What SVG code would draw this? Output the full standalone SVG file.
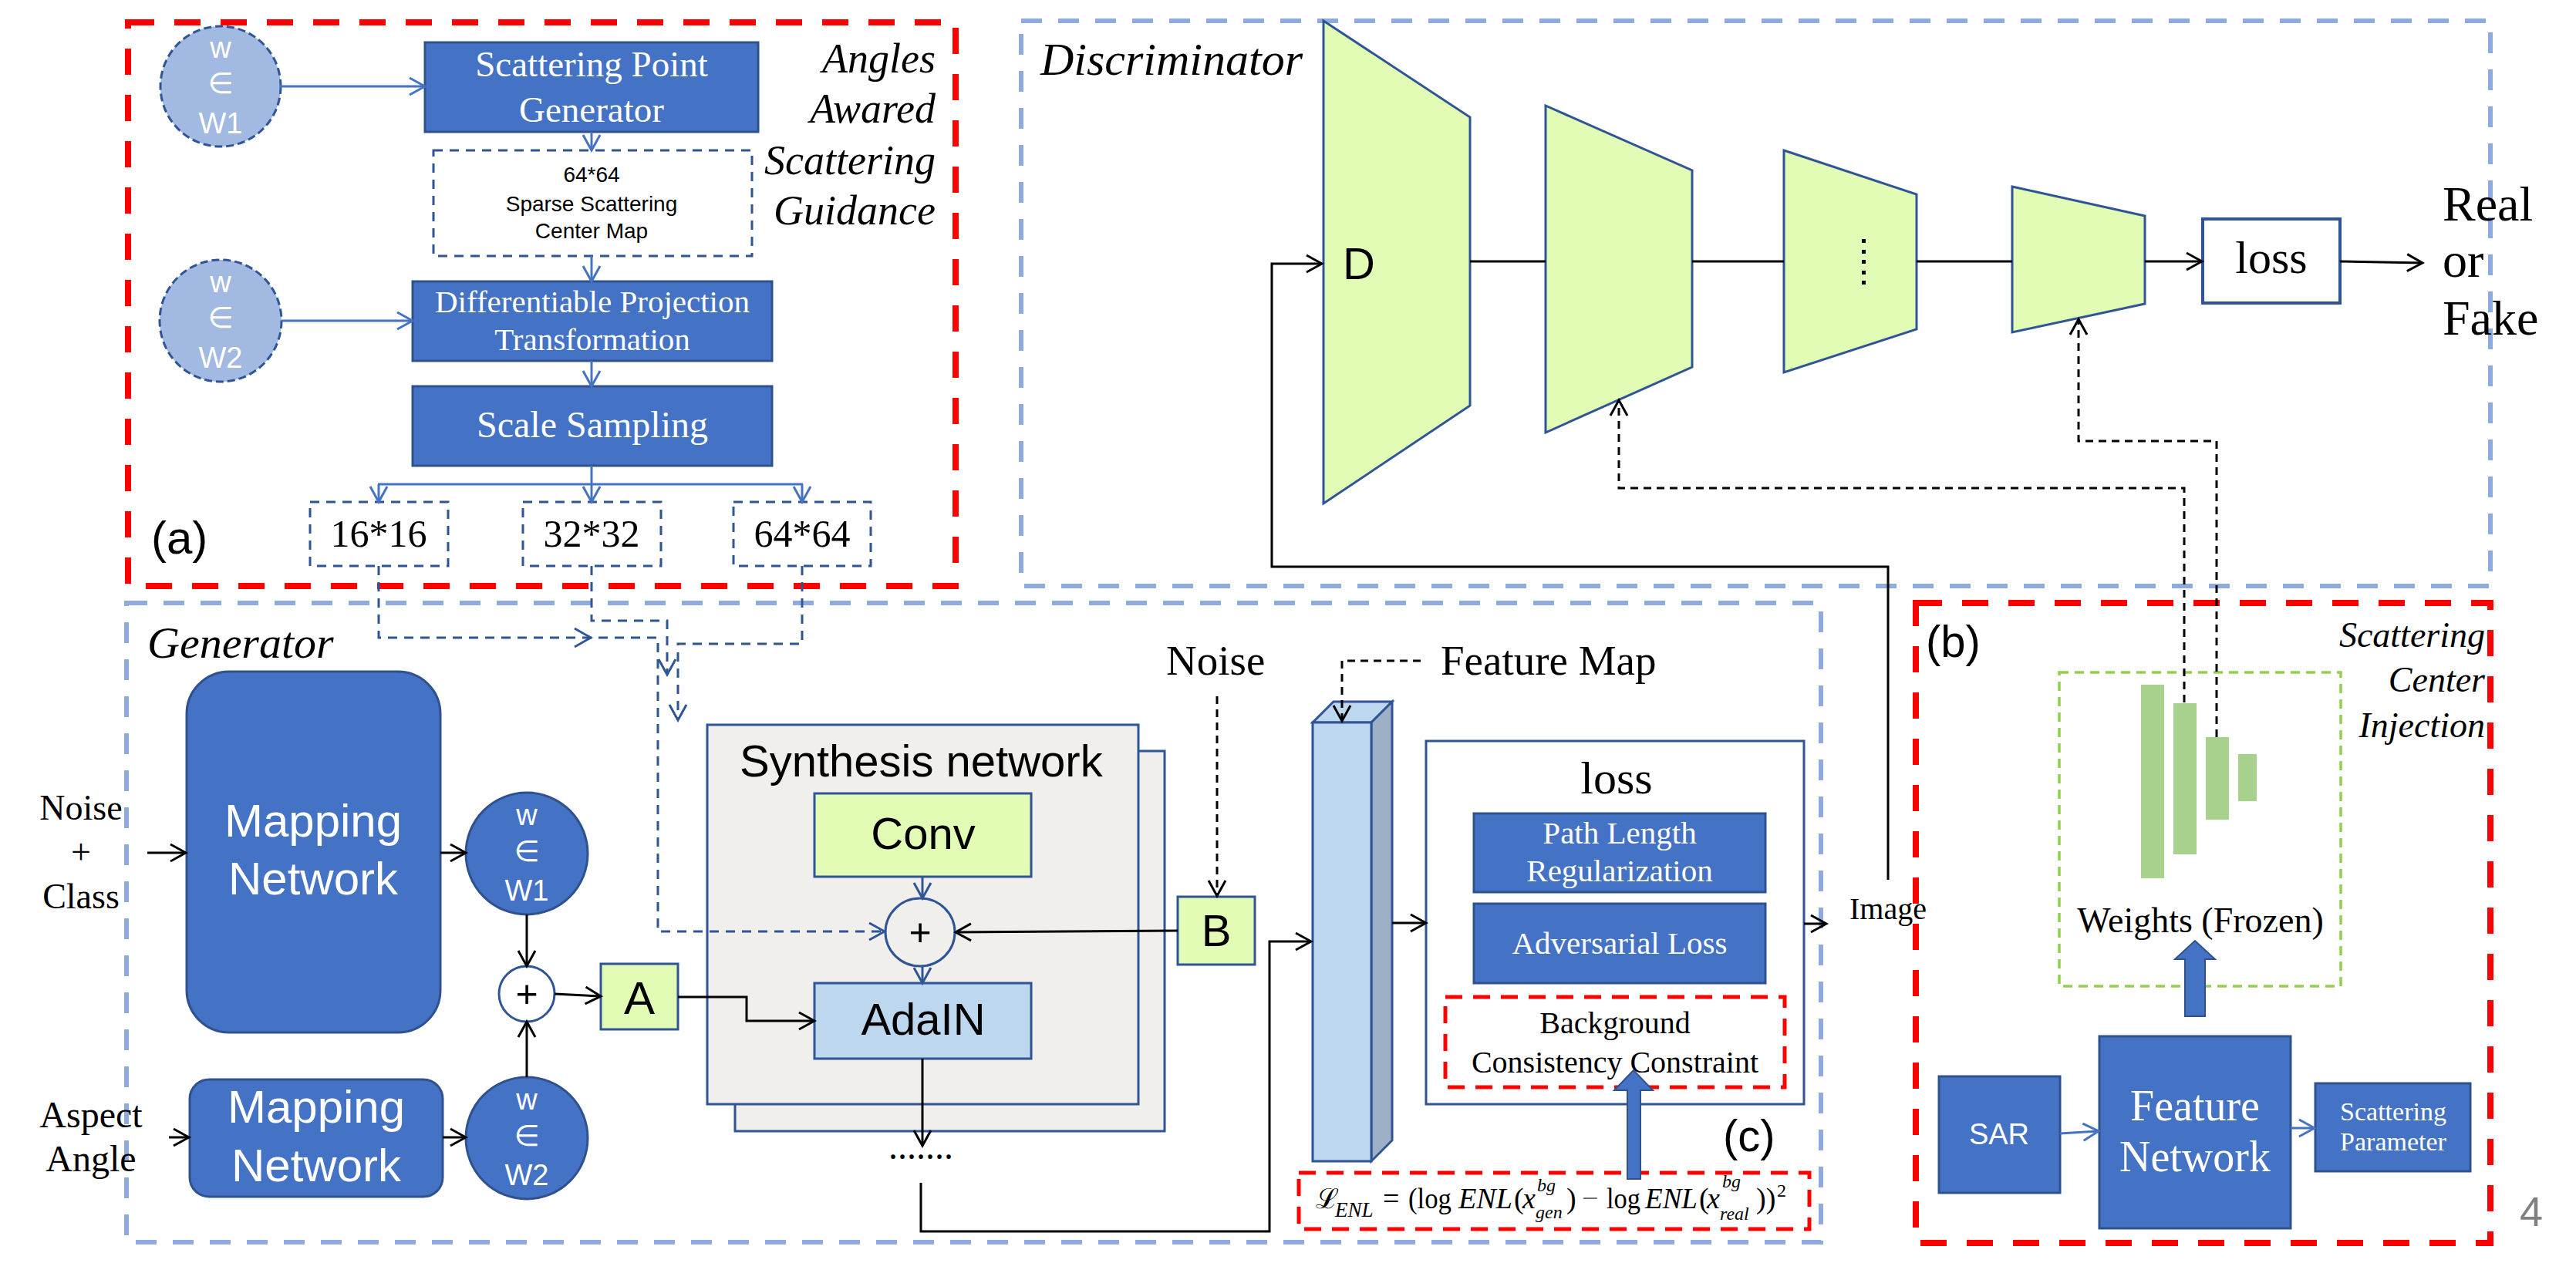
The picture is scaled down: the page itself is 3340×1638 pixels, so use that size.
<svg xmlns="http://www.w3.org/2000/svg" width="3340" height="1638" viewBox="0 0 3340 1638">
<style>
.bx{fill:#4472C4;stroke:#2F528F;stroke-width:3}
.red{fill:none;stroke:#FF0000;stroke-width:8;stroke-dasharray:34 26}
.red2{fill:none;stroke:#FF0000;stroke-width:5;stroke-dasharray:22 14}
.bd{fill:none;stroke:#8FAADC;stroke-width:6;stroke-dasharray:27 21}
.dd{fill:none;stroke:#2F5597;stroke-width:3;stroke-dasharray:12 9}
.kd{fill:none;stroke:#000;stroke-width:3;stroke-dasharray:10 7}
.k{fill:none;stroke:#000;stroke-width:3}
.bl{fill:none;stroke:#4472C4;stroke-width:3}
.dk{fill:none;stroke:#2F5597;stroke-width:3}
.tr{fill:#E2FCB6;stroke:#2F5597;stroke-width:3}
.lc{fill:#A2B9E1;stroke:#2F5597;stroke-width:3;stroke-dasharray:10 5}
.dc{fill:#4472C4;stroke:#2F528F;stroke-width:3}
.ser{font-family:"Liberation Serif","Times New Roman",serif}
.sans{font-family:"Liberation Sans",Arial,"DejaVu Sans",sans-serif}
.w{fill:#fff}
.mid{text-anchor:middle}
.it{font-style:italic}
</style>
<defs>
<marker id="ak" markerUnits="userSpaceOnUse" markerWidth="26" markerHeight="26" viewBox="0 0 26 26" refX="23" refY="13" orient="auto"><path d="M3,2 L23,13 L3,24" fill="none" stroke="#000" stroke-width="3"/></marker>
<marker id="ab" markerUnits="userSpaceOnUse" markerWidth="26" markerHeight="26" viewBox="0 0 26 26" refX="23" refY="13" orient="auto"><path d="M3,2 L23,13 L3,24" fill="none" stroke="#4472C4" stroke-width="3"/></marker>
<marker id="ad" markerUnits="userSpaceOnUse" markerWidth="26" markerHeight="26" viewBox="0 0 26 26" refX="23" refY="13" orient="auto"><path d="M3,2 L23,13 L3,24" fill="none" stroke="#2F5597" stroke-width="3"/></marker>
</defs>
<rect width="3340" height="1638" fill="#fff"/>

<!-- frames -->
<g id="frame-a"><rect class="red" x="166" y="29" width="1073" height="731"/>
<text class="sans" x="196" y="718" font-size="60">(a)</text>
<text class="ser it" x="1213" y="94" font-size="54" text-anchor="end">Angles</text>
<text class="ser it" x="1213" y="159" font-size="54" text-anchor="end">Awared</text>
<text class="ser it" x="1213" y="226" font-size="54" text-anchor="end">Scattering</text>
<text class="ser it" x="1213" y="291" font-size="54" text-anchor="end">Guidance</text>
</g>
<g id="frame-disc"><rect class="bd" x="1324" y="27" width="1905" height="733"/>
<text class="ser it" x="1349" y="97" font-size="60">Discriminator</text></g>
<g id="frame-gen"><rect class="bd" x="164" y="782" width="2197" height="829"/>
<text class="ser it" x="191" y="853" font-size="58">Generator</text></g>
<g id="frame-b"><rect class="red" x="2484" y="782" width="745" height="830"/>
<text class="sans" x="2497" y="852" font-size="58">(b)</text>
<text class="ser it" x="3222" y="839" font-size="46" text-anchor="end">Scattering</text>
<text class="ser it" x="3222" y="897" font-size="46" text-anchor="end">Center</text>
<text class="ser it" x="3222" y="956" font-size="46" text-anchor="end">Injection</text>
</g>

<!-- (a) nodes -->
<g id="w1-light"><circle class="lc" cx="286" cy="112" r="78"/>
<text class="sans w mid" x="286" y="75" font-size="38">w</text>
<text class="sans w mid" x="286" y="121" font-size="38">∈</text>
<text class="sans w mid" x="286" y="173" font-size="38">W1</text></g>
<g id="w2-light"><circle class="lc" cx="286" cy="416" r="79"/>
<text class="sans w mid" x="286" y="379" font-size="38">w</text>
<text class="sans w mid" x="286" y="425" font-size="38">∈</text>
<text class="sans w mid" x="286" y="477" font-size="38">W2</text></g>
<g id="spg"><rect class="bx" x="551" y="55" width="432" height="116"/>
<text class="ser w mid" x="767" y="99" font-size="47">Scattering Point</text>
<text class="ser w mid" x="767" y="158" font-size="47">Generator</text></g>
<g id="sparse"><rect class="dd" x="562" y="195" width="413" height="137"/>
<text class="sans mid" x="767" y="236" font-size="28">64*64</text>
<text class="sans mid" x="767" y="274" font-size="28">Sparse Scattering</text>
<text class="sans mid" x="767" y="309" font-size="28">Center Map</text></g>
<g id="dpt"><rect class="bx" x="535" y="365" width="466" height="103"/>
<text class="ser w mid" x="768" y="405" font-size="41">Differentiable Projection</text>
<text class="ser w mid" x="768" y="454" font-size="41">Transformation</text></g>
<g id="ss"><rect class="bx" x="535" y="501" width="466" height="103"/>
<text class="ser w mid" x="768" y="567" font-size="48">Scale Sampling</text></g>
<g id="s16"><rect class="dd" x="402" y="651" width="179" height="83"/>
<text class="ser mid" x="491" y="709" font-size="50">16*16</text></g>
<g id="s32"><rect class="dd" x="678" y="651" width="179" height="83"/>
<text class="ser mid" x="767" y="709" font-size="50">32*32</text></g>
<g id="s64"><rect class="dd" x="951" y="651" width="178" height="83"/>
<text class="ser mid" x="1040" y="709" font-size="50">64*64</text></g>

<!-- discriminator nodes -->
<g id="d1"><polygon class="tr" points="1716,27 1906,152 1906,526 1716,653"/>
<text class="sans" x="1741" y="362" font-size="58">D</text></g>
<g id="d2"><polygon class="tr" points="2004,137 2194,221 2194,476 2004,561"/></g>
<g id="d3"><polygon class="tr" points="2313,195 2485,252 2485,427 2313,483"/>
<g fill="#000"><rect x="2414" y="310" width="5" height="5"/><rect x="2414" y="324" width="5" height="5"/><rect x="2414" y="337" width="5" height="5"/><rect x="2414" y="351" width="5" height="5"/><rect x="2414" y="364" width="5" height="5"/></g></g>
<g id="d4"><polygon class="tr" points="2609,242 2781,280 2781,394 2609,431"/></g>
<g id="dloss"><rect x="2856" y="284" width="178" height="109" fill="#fff" stroke="#2F5597" stroke-width="4"/>
<text class="ser mid" x="2945" y="354" font-size="60">loss</text></g>
<g id="realfake"><text class="ser" x="3167" y="286" font-size="64">Real</text>
<text class="ser" x="3167" y="359" font-size="64">or</text>
<text class="ser" x="3167" y="434" font-size="64">Fake</text></g>

<!-- generator nodes -->
<g id="in-noise"><text class="ser mid" x="105" y="1063" font-size="46">Noise</text>
<text class="ser mid" x="105" y="1120" font-size="46">+</text>
<text class="ser mid" x="105" y="1178" font-size="46">Class</text></g>
<g id="in-aspect"><text class="ser mid" x="118" y="1462" font-size="48">Aspect</text>
<text class="ser mid" x="118" y="1519" font-size="48">Angle</text></g>
<g id="mn1"><rect class="bx" x="242" y="871" width="329" height="468" rx="55"/>
<text class="sans w mid" x="406" y="1085" font-size="60">Mapping</text>
<text class="sans w mid" x="406" y="1160" font-size="60">Network</text></g>
<g id="mn2"><rect class="bx" x="246" y="1400" width="328" height="152" rx="25"/>
<text class="sans w mid" x="410" y="1456" font-size="60">Mapping</text>
<text class="sans w mid" x="410" y="1532" font-size="60">Network</text></g>
<g id="w1"><circle class="dc" cx="683" cy="1107" r="79"/>
<text class="sans w mid" x="683" y="1070" font-size="38">w</text>
<text class="sans w mid" x="683" y="1117" font-size="38">∈</text>
<text class="sans w mid" x="683" y="1168" font-size="38">W1</text></g>
<g id="w2"><circle class="dc" cx="683" cy="1476" r="79"/>
<text class="sans w mid" x="683" y="1439" font-size="38">w</text>
<text class="sans w mid" x="683" y="1486" font-size="38">∈</text>
<text class="sans w mid" x="683" y="1537" font-size="38">W2</text></g>
<g id="plus1"><circle cx="683" cy="1289" r="36" fill="#fff" stroke="#2F5597" stroke-width="3"/>
<text class="sans mid" x="683" y="1306" font-size="50">+</text></g>
<g id="boxA"><rect x="779" y="1250" width="100" height="85" fill="#E2FCB6" stroke="#2F5597" stroke-width="3"/>
<text class="sans mid" x="829" y="1315" font-size="60">A</text></g>
<g id="synthesis"><rect x="953" y="974" width="557" height="493" fill="#F0EFEC" stroke="#2F5597" stroke-width="3"/>
<rect x="917" y="940" width="559" height="492" fill="#F0EFEC" stroke="#2F5597" stroke-width="3"/>
<text class="sans" x="959" y="1007" font-size="58">Synthesis network</text></g>
<g id="conv"><rect x="1056" y="1029" width="281" height="108" fill="#E2FCB6" stroke="#2F5597" stroke-width="3"/>
<text class="sans mid" x="1197" y="1101" font-size="58">Conv</text></g>
<g id="plus2"><ellipse cx="1193" cy="1209" rx="45" ry="44" fill="#F0EFEC" stroke="#2F5597" stroke-width="3"/>
<text class="sans mid" x="1193" y="1226" font-size="50">+</text></g>
<g id="adain"><rect x="1056" y="1275" width="281" height="98" fill="#BDD7EE" stroke="#2F5597" stroke-width="3"/>
<text class="sans mid" x="1197" y="1342" font-size="58">AdaIN</text></g>
<g id="dots"><text class="ser" x="1152" y="1503" font-size="48">.......</text></g>
<g id="boxB"><rect x="1527" y="1163" width="100" height="88" fill="#E2FCB6" stroke="#2F5597" stroke-width="3"/>
<text class="sans mid" x="1577" y="1227" font-size="58">B</text></g>
<g id="noise2"><text class="ser" x="1512" y="875" font-size="55">Noise</text></g>
<g id="featmap"><polygon points="1702,937 1778,937 1805,910 1729,910" fill="#BDD7EE" stroke="#2F5597" stroke-width="3"/>
<polygon points="1778,937 1805,910 1805,1479 1778,1506" fill="#9DB0C8" stroke="#2F5597" stroke-width="3"/>
<rect x="1702" y="937" width="76" height="569" fill="#BDD7EE" stroke="#2F5597" stroke-width="3"/>
<text class="ser" x="1868" y="875" font-size="55">Feature Map</text></g>
<g id="gloss"><rect x="1849" y="961" width="490" height="471" fill="#fff" stroke="#2F5597" stroke-width="3"/>
<text class="ser mid" x="2096" y="1029" font-size="60">loss</text>
<rect class="bx" x="1911" y="1055" width="378" height="102"/>
<text class="ser w mid" x="2100" y="1094" font-size="41">Path Length</text>
<text class="ser w mid" x="2100" y="1143" font-size="41">Regularization</text>
<rect class="bx" x="1911" y="1172" width="378" height="103"/>
<text class="ser w mid" x="2100" y="1237" font-size="41">Adversarial Loss</text>
<rect class="red2" x="1874" y="1293" width="440" height="117"/>
<text class="ser mid" x="2094" y="1340" font-size="40">Background</text>
<text class="ser mid" x="2094" y="1391" font-size="40">Consistency Constraint</text></g>
<g id="formula"><rect class="red2" x="1684" y="1521" width="662" height="73"/>
<g class="ser" font-size="38">
<text x="1706" y="1567" font-family="'DejaVu Serif',serif" font-size="36">ℒ</text>
<text class="it" x="1731" y="1578" font-size="27">ENL</text>
<text x="1793" y="1567">=</text>
<text x="1826" y="1567" textLength="56" lengthAdjust="spacingAndGlyphs">(log</text>
<text class="it" x="1891" y="1567" textLength="70" lengthAdjust="spacingAndGlyphs">ENL</text>
<text x="1963" y="1567">(</text>
<text class="it" x="1974" y="1567">x</text>
<text class="it" x="1993" y="1545" font-size="24">bg</text>
<text class="it" x="1991" y="1580" font-size="24">gen</text>
<text x="2031" y="1567">)</text>
<text x="2051" y="1567" fill="#666">−</text>
<text x="2083" y="1567" textLength="44" lengthAdjust="spacingAndGlyphs">log</text>
<text class="it" x="2133" y="1567" textLength="68" lengthAdjust="spacingAndGlyphs">ENL</text>
<text x="2203" y="1567">(</text>
<text class="it" x="2213" y="1567">x</text>
<text class="it" x="2233" y="1540" font-size="24">bg</text>
<text class="it" x="2230" y="1582" font-size="24">real</text>
<text x="2277" y="1567">))</text>
<text x="2304" y="1552" font-size="24">2</text>
</g></g>
<g id="label-c"><text class="sans" x="2234" y="1493" font-size="58">(c)</text></g>
<g id="image"><text class="ser" x="2398" y="1192" font-size="40">Image</text></g>

<!-- (b) nodes -->
<g id="weights"><rect x="2670" y="872" width="365" height="407" fill="none" stroke="#92D050" stroke-width="3.5" stroke-dasharray="12 8"/>
<g fill="#A9D18E"><rect x="2776" y="888" width="30" height="251"/><rect x="2818" y="912" width="30" height="196"/><rect x="2860" y="956" width="30" height="107"/><rect x="2902" y="978" width="24" height="61"/></g>
<text class="ser mid" x="2853" y="1209" font-size="46">Weights (Frozen)</text></g>
<g id="sar"><rect class="bx" x="2514" y="1396" width="157" height="151"/>
<text class="sans w mid" x="2592" y="1484" font-size="38">SAR</text></g>
<g id="fnet"><rect class="bx" x="2722" y="1344" width="248" height="249"/>
<text class="ser w mid" x="2846" y="1453" font-size="56">Feature</text>
<text class="ser w mid" x="2846" y="1519" font-size="56">Network</text></g>
<g id="sparam"><rect class="bx" x="3002" y="1405" width="201" height="114"/>
<text class="ser w mid" x="3103" y="1453" font-size="34">Scattering</text>
<text class="ser w mid" x="3103" y="1492" font-size="34">Parameter</text></g>
<g id="pagenum"><text class="sans" x="3267" y="1590" font-size="54" fill="#808080">4</text></g>

<!-- connectors -->
<g id="connectors">
<line class="bl" x1="363" y1="112" x2="551" y2="112" marker-end="url(#ab)"/>
<line class="bl" x1="365" y1="416" x2="535" y2="416" marker-end="url(#ab)"/>
<line class="bl" x1="767" y1="171" x2="767" y2="195" marker-end="url(#ab)"/>
<line class="bl" x1="767" y1="332" x2="767" y2="365" marker-end="url(#ab)"/>
<line class="bl" x1="767" y1="468" x2="767" y2="501" marker-end="url(#ab)"/>
<polyline class="bl" points="767,604 767,628"/>
<line class="bl" x1="490" y1="628" x2="1041" y2="628"/>
<line class="bl" x1="491" y1="628" x2="491" y2="651" marker-end="url(#ab)"/>
<line class="bl" x1="767" y1="628" x2="767" y2="651" marker-end="url(#ab)"/>
<line class="bl" x1="1040" y1="628" x2="1040" y2="651" marker-end="url(#ab)"/>

<polyline class="dd" points="491,734 491,827 853,827 853,1208 1147,1208" marker-end="url(#ad)"/>
<path d="M745,815 L766,827 L745,839" fill="none" stroke="#2F5597" stroke-width="3"/>
<polyline class="dd" points="767,734 767,805 865,805 865,875" marker-end="url(#ad)"/>
<polyline class="dd" points="1040,734 1040,835 879,835 879,934" marker-end="url(#ad)"/>

<line class="k" x1="191" y1="1106" x2="241" y2="1106" marker-end="url(#ak)"/>
<line class="k" x1="571" y1="1106" x2="604" y2="1106" marker-end="url(#ak)"/>
<line class="k" x1="219" y1="1475" x2="245" y2="1475" marker-end="url(#ak)"/>
<line class="k" x1="574" y1="1475" x2="604" y2="1475" marker-end="url(#ak)"/>
<line class="k" x1="683" y1="1186" x2="683" y2="1253" marker-end="url(#ak)"/>
<line class="k" x1="683" y1="1397" x2="683" y2="1325" marker-end="url(#ak)"/>
<line class="k" x1="719" y1="1289" x2="779" y2="1292" marker-end="url(#ak)"/>
<polyline class="k" points="879,1293 968,1293 968,1324 1056,1324" marker-end="url(#ak)"/>
<line class="dk" x1="1196" y1="1137" x2="1196" y2="1165" marker-end="url(#ad)"/>
<line class="dk" x1="1196" y1="1253" x2="1196" y2="1275" marker-end="url(#ad)"/>
<line class="k" x1="1527" y1="1207" x2="1239" y2="1209" marker-end="url(#ak)"/>
<line class="kd" x1="1578" y1="903" x2="1578" y2="1162" marker-end="url(#ak)"/>
<line class="k" x1="1196" y1="1373" x2="1196" y2="1486" marker-end="url(#ak)"/>
<polyline class="k" points="1194,1534 1194,1597 1646,1597 1646,1221 1700,1221" marker-end="url(#ak)"/>
<polyline class="kd" points="1842,857 1740,857 1740,935" marker-end="url(#ak)"/>
<line class="k" x1="1805" y1="1197" x2="1849" y2="1197" marker-end="url(#ak)"/>
<line class="k" x1="2339" y1="1198" x2="2368" y2="1198" marker-end="url(#ak)"/>
<g fill="#4472C4" stroke="#2F528F" stroke-width="2"><polygon points="2110,1529 2127,1529 2127,1414 2143,1414 2118,1388 2093,1414 2110,1414"/></g>

<polyline class="k" points="2448,1141 2448,735 1649,735 1649,342 1714,342" marker-end="url(#ak)"/>
<line class="k" x1="1906" y1="339" x2="2004" y2="339"/>
<line class="k" x1="2194" y1="339" x2="2313" y2="339"/>
<line class="k" x1="2485" y1="339" x2="2609" y2="339"/>
<line class="k" x1="2781" y1="339" x2="2855" y2="339" marker-end="url(#ak)"/>
<line class="k" x1="3034" y1="339" x2="3141" y2="341" marker-end="url(#ak)"/>
<polyline class="kd" points="2832,911 2832,633 2099,633 2099,519" marker-end="url(#ak)"/>
<polyline class="kd" points="2874,956 2874,572 2695,572 2695,414" marker-end="url(#ak)"/>

<g fill="#4472C4" stroke="#2F528F" stroke-width="2"><polygon points="2833,1318 2859,1318 2859,1244 2872,1244 2846,1220 2820,1244 2833,1244"/></g>
<line class="bl" x1="2671" y1="1470" x2="2721" y2="1467" marker-end="url(#ab)"/>
<line class="bl" x1="2970" y1="1463" x2="3001" y2="1463" marker-end="url(#ab)"/>
</g>
</svg>
